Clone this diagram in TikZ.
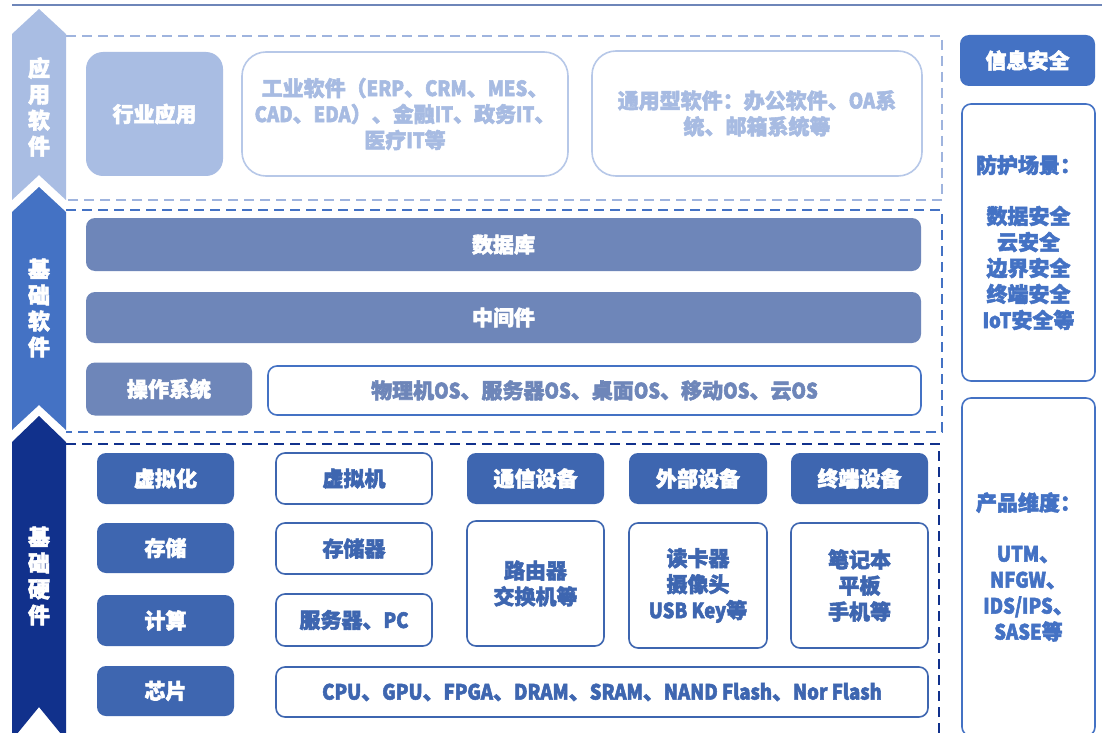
\documentclass[tikz,border=0pt]{standalone}
\usepackage{fontspec}
\setmainfont{Noto Sans CJK SC}[FakeBold=2.5]
\newfontfamily\latn{Noto Sans CJK SC}[FakeStretch=0.88, FakeBold=2.5]
\newcommand\lt[1]{{\latn #1}}
\definecolor{lblue}{HTML}{A9BDE3}
\definecolor{ldash}{HTML}{9FB4DE}
\definecolor{lborder}{HTML}{B7C8E8}
\definecolor{ltext}{HTML}{A7BBE2}
\definecolor{slate}{HTML}{6E86B9}
\definecolor{mblue}{HTML}{4472C4}
\definecolor{hblue}{HTML}{3E66B0}
\definecolor{navy}{HTML}{11318C}
\tikzset{
  lbl/.style={font=\bfseries\fontsize{21}{26}\selectfont, align=center, inner sep=0pt},
  filled/.style={lbl, rounded corners=9pt, text=white},
  appfill/.style={filled, fill=lblue, rounded corners=17pt},
  appbox/.style={lbl, draw=lborder, line width=1.6pt, rounded corners=24pt, text=ltext},
  slatefill/.style={filled, fill=slate},
  hwfill/.style={filled, fill=hblue},
  hwbox/.style={lbl, draw=hblue, line width=1.6pt, rounded corners=9pt, text=hblue},
  secbox/.style={lbl, draw=mblue, line width=1.6pt, rounded corners=9pt, text=mblue},
  dashbox/.style={line width=2.8pt, dash pattern=on 10pt off 6pt},
  arrowlbl/.style={font=\bfseries\fontsize{22}{26}\selectfont, text=white, align=center, inner sep=0pt},
}
\begin{document}
\begin{tikzpicture}[x=1pt, y=-1pt]
\clip (0,0) rectangle (1109,733);
\fill[white] (0,0) rectangle (1109,733);
% top rule
\coordinate (tl) at (12,5);
\coordinate (tr) at (1102,5);
\draw[slate, line width=2pt] (tl) -- (tr);
% dashed layer frames
\draw[dashbox, ldash] (66,36) -- (942,36) -- (942,200) -- (66,200);
\draw[dashbox, mblue] (66,210) -- (942,210) -- (942,432) -- (66,432);
\draw[dashbox, navy] (66,444) -- (939,444) -- (939,745);
% left arrows
\fill[lblue] (12,34) -- (39,9) -- (66,34) -- (66,200) -- (39,175) -- (12,200) -- cycle;
\fill[mblue] (12,212) -- (39,187) -- (66,212) -- (66,430) -- (39,405) -- (12,430) -- cycle;
\fill[navy] (12,442) -- (39,416) -- (66,442) -- (66,740) -- (39,707) -- (12,740) -- cycle;
\node[arrowlbl] (a1) at (39,107) {应\\用\\软\\件};
\node[arrowlbl] (a2) at (39,308) {基\\础\\软\\件};
\node[arrowlbl] (a3) at (39,576) {基\\础\\硬\\件};
% application software
\node[appfill, minimum width=137pt, minimum height=124pt] (hy) at (154.5,114) {行业应用};
\node[appbox, minimum width=326pt, minimum height=124pt] (gy) at (405,114) {工业软件（\lt{ERP}、\lt{CRM}、\lt{MES}、\\\lt{CAD}、\lt{EDA}）、金融\lt{IT}、政务\lt{IT}、\\医疗\lt{IT}等};
\node[appbox, minimum width=330pt, minimum height=125pt] (ty) at (757,113.5) {通用型软件：办公软件、\lt{OA}系\\统、邮箱系统等};
% basic software
\node[slatefill, minimum width=835pt, minimum height=53pt] (db) at (503.5,244.5) {数据库};
\node[slatefill, minimum width=835pt, minimum height=51pt] (mw) at (503.5,317.5) {中间件};
\node[slatefill, minimum width=166pt, minimum height=53pt] (os) at (169,389) {操作系统};
\node[lbl, draw=mblue, line width=1.6pt, rounded corners=9pt, text=slate, minimum width=653pt, minimum height=49pt] (osl) at (594.5,390.5) {物理机\lt{OS}、服务器\lt{OS}、桌面\lt{OS}、移动\lt{OS}、云\lt{OS}};
% hardware: left column
\node[hwfill, minimum width=137pt, minimum height=51pt] (xnh) at (165.5,478.5) {虚拟化};
\node[hwfill, minimum width=137pt, minimum height=50pt] (cc) at (165.5,548) {存储};
\node[hwfill, minimum width=137pt, minimum height=51pt] (js) at (165.5,620.5) {计算};
\node[hwfill, minimum width=137pt, minimum height=50pt] (xp) at (165.5,691) {芯片};
% second column
\node[hwbox, minimum width=156pt, minimum height=51pt] (xnj) at (354,478.5) {虚拟机};
\node[hwbox, minimum width=156pt, minimum height=51pt] (ccq) at (354,548.5) {存储器};
\node[hwbox, minimum width=156pt, minimum height=52pt] (fwq) at (354,620) {服务器、\lt{PC}};
% devices
\node[hwfill, minimum width=137pt, minimum height=51pt] (tx) at (535.5,478.5) {通信设备};
\node[hwbox, minimum width=137pt, minimum height=125pt] (lyq) at (535.5,583.5) {路由器\\交换机等};
\node[hwfill, minimum width=138pt, minimum height=51pt] (wb) at (698,478.5) {外部设备};
\node[hwbox, minimum width=138pt, minimum height=125pt] (dkq) at (698,585.5) {读卡器\\摄像头\\\lt{USB Key}等};
\node[hwfill, minimum width=137pt, minimum height=51pt] (zd) at (859.5,478.5) {终端设备};
\node[hwbox, minimum width=137pt, minimum height=125pt] (bjb) at (859.5,585.5) {笔记本\\平板\\手机等};
\node[hwbox, minimum width=652pt, minimum height=50pt] (cpu) at (602,692) {\lt{CPU}、\lt{GPU}、\lt{FPGA}、\lt{DRAM}、\lt{SRAM}、\lt{NAND Flash}、\lt{Nor Flash}};
% information security column
\node[filled, fill=mblue, minimum width=135pt, minimum height=51pt] (xxaq) at (1027.5,60.5) {信息安全};
\node[secbox, minimum width=133pt, minimum height=277pt] (fh) at (1028.5,242.5) {防护场景：\\[25pt]数据安全\\云安全\\边界安全\\终端安全\\\lt{IoT}安全等};
\node[secbox, minimum width=133pt, minimum height=338pt] (cp) at (1028.5,567) {产品维度：\\[25pt]\lt{UTM}、\\\lt{NFGW}、\\\lt{IDS/IPS}、\\\lt{SASE}等};
\end{tikzpicture}
\end{document}
